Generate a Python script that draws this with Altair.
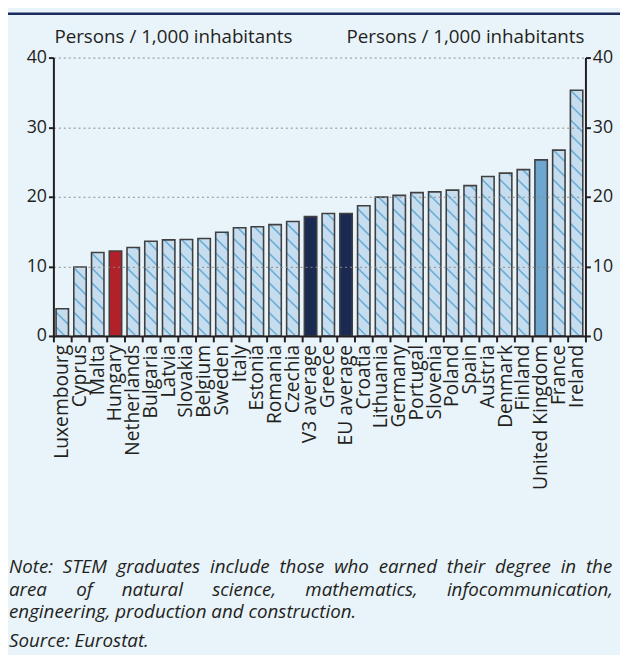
import altair as alt
import pandas as pd

# ---- data ----
categories = ["Luxembourg", "Cyprus", "Malta", "Hungary", "Netherlands", "Bulgaria",
              "Latvia", "Slovakia", "Belgium", "Sweden", "Italy", "Estonia", "Romania",
              "Czechia", "V3 average", "Greece", "EU average", "Croatia", "Lithuania",
              "Germany", "Portugal", "Slovenia", "Poland", "Spain", "Austria", "Denmark",
              "Finland", "United Kingdom", "France", "Ireland"]
values = [3.9, 9.9, 12.0, 12.2, 12.7, 13.6, 13.8, 13.85, 14.0, 14.9, 15.55, 15.7, 16.0,
          16.45, 17.15, 17.6, 17.6, 18.7, 19.95, 20.2, 20.6, 20.7, 20.95, 21.6, 22.9,
          23.4, 23.9, 25.3, 26.7, 35.3]
kinds = ["country"] * len(categories)
kinds[categories.index("Hungary")] = "hungary"
kinds[categories.index("V3 average")] = "average"
kinds[categories.index("EU average")] = "average"
kinds[categories.index("United Kingdom")] = "uk"
y_ticks = [0, 10, 20, 30, 40]
axis_title = "Persons / 1,000 inhabitants"
GAP1 = " \u00a0"
GAP2 = "\u00a0" * 6
note_lines = [
    GAP1.join("Note: STEM graduates include those who earned their degree in the".split(" ")),
    GAP2.join(["area", "of", "natural", "science,", "mathematics,", "infocommunication,"]),
    "engineering, production and construction.",
]
source_line = "Source: Eurostat."

# ---- layout ----
W, H = 539, 282
N = len(categories)
HALF = 0.35
BAND_PX = W / N
Y_PX = H / 40.0
FONT = "Open Sans"
INK = "#231f20"

df = pd.DataFrame({"cat": categories, "val": values, "kind": kinds})
df["i"] = range(N)
df["x0"] = df["i"] - HALF
df["x1"] = df["i"] + HALF
df["base"] = 0.0

# hatch segments for the plain country bars, derived from the bar values
rows = []
spacing = 15.0
wpx = 2 * HALF * BAND_PX
for i, (v, k) in enumerate(zip(values, kinds)):
    if k != "country":
        continue
    hpx = v * Y_PX
    b = spacing * 0.6
    while b < hpx + wpx:
        a1 = max(0.0, b - hpx)
        a2 = min(wpx, b)
        if a2 > a1:
            rows.append({"hx": i - HALF + a1 / BAND_PX, "hy": (b - a1) / Y_PX,
                         "hx2": i - HALF + a2 / BAND_PX, "hy2": (b - a2) / Y_PX})
        b += spacing
hatch = pd.DataFrame(rows)

xscale = alt.Scale(domain=[-0.5, N - 0.5], nice=False, zero=False)
yscale = alt.Scale(domain=[0, 40], nice=False)
xaxis = alt.Axis(values=[i - 0.5 for i in range(N + 1)], labels=False, grid=False,
                 ticks=True, tickSize=6, tickWidth=2, tickColor=INK,
                 domainColor=INK, domainWidth=2, title=None, zindex=2)

color_scale = alt.Scale(domain=["country", "hungary", "average", "uk"],
                        range=["#c6dcef", "#b2202a", "#1b2a52", "#6da7cf"])

fill = alt.Chart(df).mark_bar(strokeWidth=0).encode(
    x=alt.X("x0:Q", scale=xscale, axis=xaxis),
    x2="x1:Q",
    y=alt.Y("val:Q", scale=yscale, axis=alt.Axis(
        orient="left", values=y_ticks, grid=True, gridDash=[2, 3], gridColor="#8a8a8a",
        gridWidth=1, domainColor=INK, domainWidth=2, tickColor=INK, tickWidth=2,
        tickSize=5, labelFont=FONT, labelFontSize=18, labelColor=INK, labelPadding=2,
        title=None, zindex=2)),
    y2="base:Q",
    color=alt.Color("kind:N", scale=color_scale, legend=None),
)

stripes = alt.Chart(hatch).mark_rule(color="#6aaed6", strokeWidth=1.6).encode(
    x=alt.X("hx:Q", scale=xscale, axis=xaxis),
    x2="hx2:Q",
    y=alt.Y("hy:Q", scale=yscale, axis=None),
    y2="hy2:Q",
)

outline = alt.Chart(df).mark_bar(fillOpacity=0, stroke="#404040", strokeWidth=1.6).encode(
    x=alt.X("x0:Q", scale=xscale, axis=xaxis),
    x2="x1:Q",
    y=alt.Y("val:Q", scale=yscale, axis=alt.Axis(
        orient="right", values=y_ticks, grid=False, domainColor=INK, domainWidth=2,
        tickColor=INK, tickWidth=2, tickSize=5, labelFont=FONT, labelFontSize=18,
        labelColor=INK, labelPadding=2, title=None, zindex=2)),
    y2="base:Q",
)

labels = alt.Chart(df).mark_text(angle=270, align="right", baseline="middle", dx=-9,
                                 font=FONT, fontSize=19.5, color=INK).encode(
    x=alt.X("i:Q", scale=xscale, axis=xaxis),
    y=alt.Y("base:Q", scale=yscale, axis=None),
    text="cat:N",
)

titles_df = pd.DataFrame({"t": [axis_title, axis_title], "side": ["left", "right"]})
left_title = alt.Chart(titles_df[titles_df.side == "left"]).mark_text(
    align="left", baseline="middle", font=FONT, fontSize=19, color=INK).encode(
    x=alt.value(1), y=alt.value(-21), text="t:N")
right_title = alt.Chart(titles_df[titles_df.side == "right"]).mark_text(
    align="right", baseline="middle", font=FONT, fontSize=19, color=INK).encode(
    x=alt.value(W - 1), y=alt.value(-21), text="t:N")

note_df = pd.DataFrame({"t": note_lines + [source_line], "row": [0, 1, 2, 3]})
note_y = [516, 539, 562, 591]
note_df["py"] = note_y
notes = alt.Chart(note_df).mark_text(align="left", baseline="middle", font=FONT,
                                     fontSize=19, fontStyle="italic", color=INK).encode(
    x=alt.value(-45), y=alt.Y("py:Q", scale=None, axis=None), text="t:N")

topline = alt.Chart(pd.DataFrame({"a": [0]})).mark_rule(color="#1c2c5c", strokeWidth=2.5).encode(
    x=alt.value(-46), x2=alt.value(W + 35), y=alt.value(-44.5))

chart = alt.layer(fill, stripes, outline, labels, left_title, right_title, notes, topline).resolve_axis(
    y="independent"
).properties(
    width=W, height=H,
    autosize=alt.AutoSizeParams(type="none"),
    padding={"left": 46, "top": 46, "right": 35, "bottom": 319},
    background="#e9f3fa",
).configure_view(stroke=None)

chart.save("out.html", embed_options={"renderer": "svg", "actions": False})
